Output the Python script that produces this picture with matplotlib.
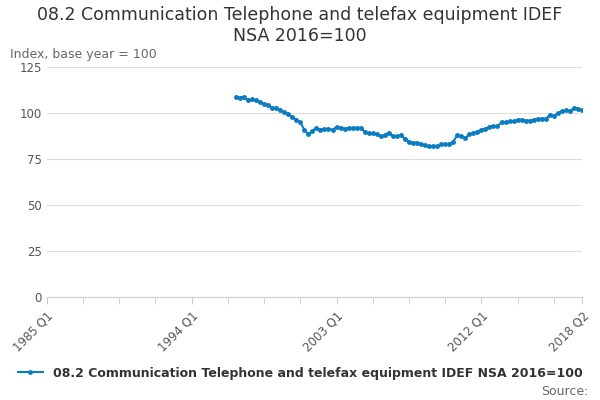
import matplotlib
matplotlib.use("Agg")
import matplotlib.pyplot as plt

start_index = 47  # 1996 Q4 relative to 1985 Q1
values = [109,
 108.5,109,107,107.5, 107,106,105,104.5, 103,103,101.5,100.5, 99.5,98,96.5,95,
 91,88.5,90.5,92, 91,91.5,91.5,91, 92.5,92,91.5,92, 92,92,92,90,
 89,89,88.5,87.5, 88,89.5,87.5,87.5, 88,86,84.5,84, 84,83,82.5,82,
 82,82,83,83, 83,84.5,88,87.5, 86.5,88.5,89,90, 91,91.5,92.5,93,
 93,95,95,95.5, 95.5,96.5,96.5,96, 96,96.5,97,97, 97,99,98.5,100,
 101,101.5,101,103, 102.5,101.5,102.5]
tick_labels = ["1985 Q1", "1994 Q1", "2003 Q1", "2012 Q1", "2018 Q2"]
tick_pos = [0, 36, 72, 108, 133]
series_name = "08.2 Communication Telephone and telefax equipment IDEF NSA 2016=100"

fig = plt.figure(figsize=(6, 4), dpi=100)
ax = fig.add_axes([0.078, 0.257, 0.892, 0.575])
x = list(range(start_index, start_index + len(values)))
color = "#0a7cc1"
ax.plot(x, values, color=color, lw=1.5, marker="o", ms=2.5)
ax.set_xlim(0, 133)
ax.set_ylim(0, 125)
ax.set_yticks([0, 25, 50, 75, 100, 125])
ax.grid(axis="y", color="#dddddd", lw=0.8)
ax.set_axisbelow(True)
minor = list(range(0, 133, 9)) + [133]
ax.set_xticks(minor, minor=True)
ax.set_xticks(tick_pos)
ax.set_xticklabels(tick_labels, rotation=45, ha="right", rotation_mode="anchor", color="#555555", fontsize=8.5)
ax.tick_params(axis="x", which="both", length=5, color="#cccccc")
ax.tick_params(axis="y", length=0, labelsize=8.5, labelcolor="#555555")
for s in ["top", "right", "left"]:
    ax.spines[s].set_visible(False)
ax.spines["bottom"].set_color("#cccccc")
fig.text(0.5, 0.985, "08.2 Communication Telephone and telefax equipment IDEF\nNSA 2016=100",
         ha="center", va="top", fontsize=12.5, color="#333333", linespacing=1.2)
fig.text(0.017, 0.855, "Index, base year = 100", fontsize=9, color="#666666")
ax.plot([], [], color=color, lw=1.5, marker="o", ms=2.5, label=series_name)
h, l = ax.get_legend_handles_labels()
fig.legend(h[-1:], l[-1:], loc="center", bbox_to_anchor=(0.5, 0.067), frameon=False,
           prop={"weight": "bold", "size": 9}, labelcolor="#333333", handlelength=2)
fig.text(0.98, 0.005, "Source:", ha="right", va="bottom", fontsize=9, color="#666666")
fig.savefig("out.png")
